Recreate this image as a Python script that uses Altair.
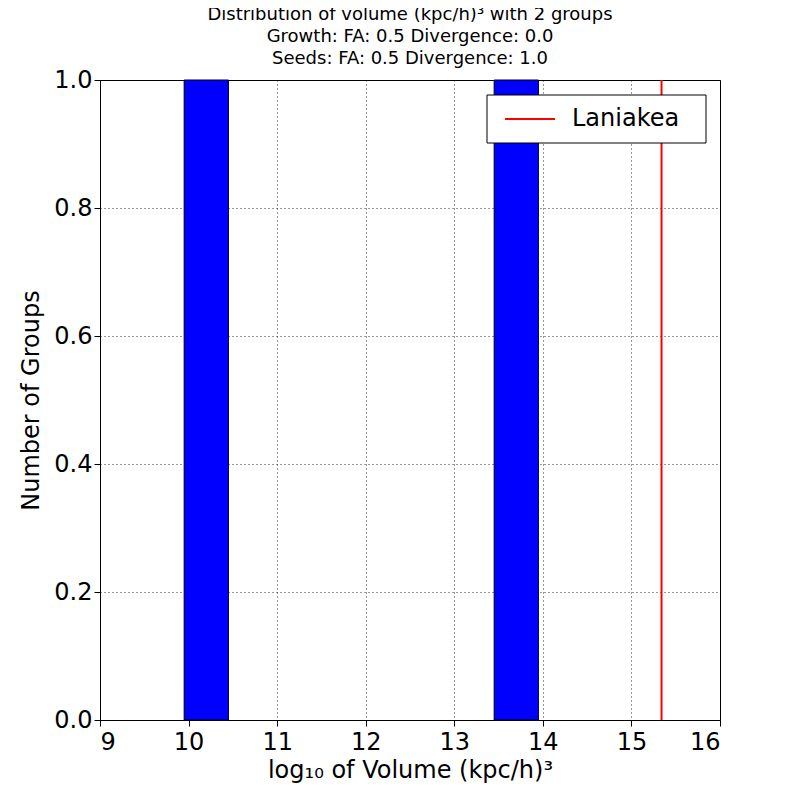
import altair as alt
import pandas as pd

bin_start = [9.95, 13.45]
bin_end = [10.45, 13.95]
counts = [1, 1]
laniakea = [15.34]

bars = pd.DataFrame({"x": bin_start, "x2": bin_end, "y": counts})
line = pd.DataFrame({"x": laniakea})

xs = alt.Scale(domain=[9, 16], nice=False)
ys = alt.Scale(domain=[0, 1], nice=False)

base_axis = dict(labelFontSize=24, titleFontSize=24, grid=True, gridColor="black",
                 gridDash=[1, 3], gridOpacity=0.8, domainColor="black", tickColor="black",
                 labelColor="black", titleColor="black", labelFont="DejaVu Sans",
                 titleFont="DejaVu Sans", titleFontWeight="normal")

b = alt.Chart(bars).mark_rect(color="#0000ff", stroke="black", strokeWidth=1).encode(
    x=alt.X("x:Q", scale=xs, axis=alt.Axis(title="log₁₀ of Volume (kpc/h)³",
            values=list(range(9, 17)), format="d", tickSize=6, labelPadding=4, **base_axis)),
    x2="x2:Q",
    y=alt.Y("y:Q", scale=ys, axis=alt.Axis(title="Number of Groups", values=[0, 0.2, 0.4, 0.6, 0.8, 1.0],
            format=".1f", tickSize=6, titlePadding=10, **base_axis)),
    y2=alt.datum(0),
)

r = alt.Chart(line).mark_rule(color="red", strokeWidth=2).encode(x="x:Q")

box = alt.Chart(pd.DataFrame({"a": [0]})).mark_rect(fill="white", stroke="black", strokeWidth=1).encode(
    x=alt.value(387), x2=alt.value(606), y=alt.value(15), y2=alt.value(63))
leg_line = alt.Chart(pd.DataFrame({"a": [0]})).mark_rule(color="red", strokeWidth=2).encode(
    x=alt.value(405), x2=alt.value(455), y=alt.value(39))
leg_text = alt.Chart(pd.DataFrame({"t": ["Laniakea"]})).mark_text(
    align="left", baseline="middle", fontSize=24, font="DejaVu Sans", color="black").encode(
    x=alt.value(472), y=alt.value(39), text="t:N")

chart = alt.layer(b, r, box, leg_line, leg_text).properties(
    width=620, height=640,
    autosize=alt.AutoSizeParams(type="none"),
    padding={"left": 92, "top": 72, "right": 72, "bottom": 72},
    title=alt.TitleParams(
        ["Distribution of volume (kpc/h)³  with 2 groups",
         "Growth: FA: 0.5 Divergence: 0.0",
         "Seeds: FA: 0.5 Divergence: 1.0"],
        fontSize=18, font="DejaVu Sans", fontWeight="normal", color="black",
        anchor="middle", offset=0, lineHeight=22),
).configure_view(stroke="black", strokeWidth=1)

chart.save("out.html", embed_options={"renderer": "svg", "actions": False})
